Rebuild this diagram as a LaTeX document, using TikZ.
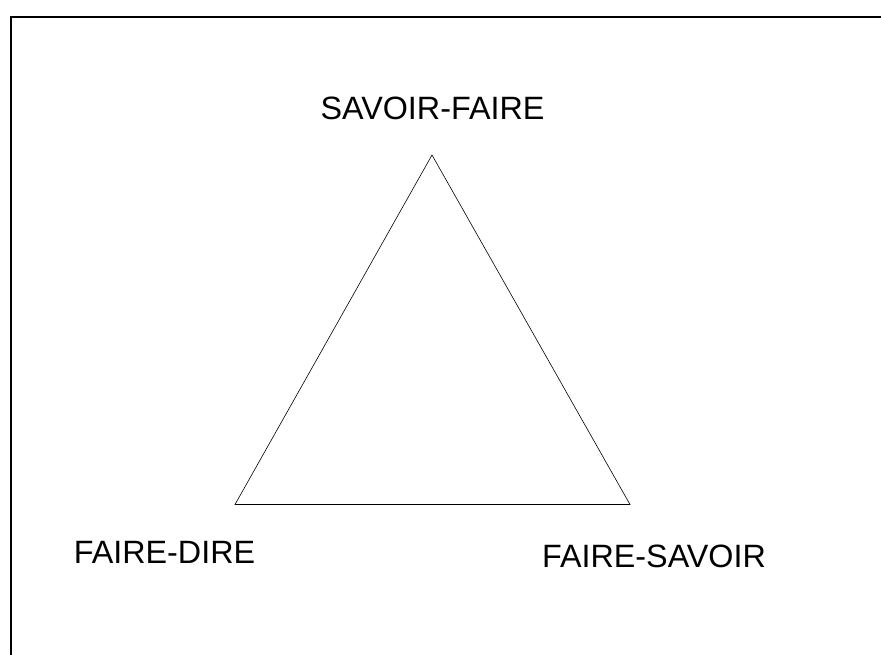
\documentclass[tikz,border=0pt]{standalone}
\usepackage{fontspec}
\setmainfont{Liberation Sans}
\usetikzlibrary{positioning}

\begin{document}
\begin{tikzpicture}[x=1pt,y=-1pt,
  lbl/.style={inner sep=0pt,anchor=base,font=\fontsize{32.3}{38}\selectfont}]
  \useasboundingbox (0,0) rectangle (881,655);
  \clip (0,0) rectangle (881,655);
  % frame
  \draw[line width=2pt] (10.5,17) rectangle (900,680);
  % corners of the triangle
  \coordinate (top) at (432,155);
  \coordinate (left) at (235,504.5);
  \coordinate (right) at (630,504.5);
  \draw[line width=0.6pt,line join=miter] (top) -- (left) -- (right) -- cycle;
  \node[lbl] (sf) at (432.5,120) {SAVOIR-FAIRE};
  \node[lbl] (fd) at (164.5,563) {FAIRE-DIRE};
  \node[lbl] (fs) at (654,567) {FAIRE-SAVOIR};
\end{tikzpicture}
\end{document}
